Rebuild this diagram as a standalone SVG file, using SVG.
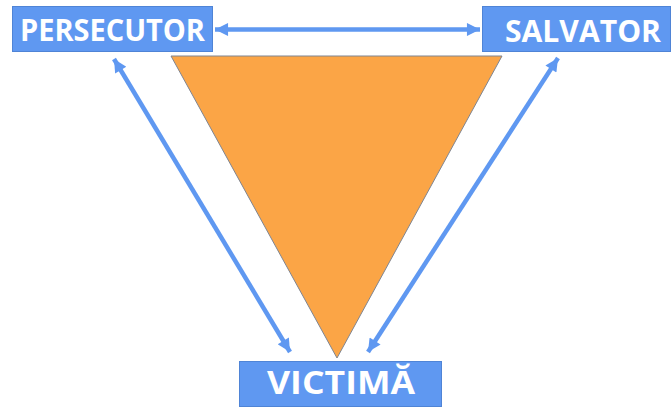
<svg xmlns="http://www.w3.org/2000/svg" width="672" height="407" viewBox="0 0 672 407">
<style>
.box{fill:#5F98F1;stroke:#4F84D6;stroke-width:1}
.lbl{font-family:"Open Sans","Liberation Sans",sans-serif;font-weight:bold;fill:#FFFFFF;text-anchor:middle}
.con{stroke:#5F98F1;stroke-width:4.5;fill:none;marker-start:url(#ah);marker-end:url(#ah)}
</style>
<defs>
<marker id="ah" viewBox="0 0 10 10" refX="10" refY="5" markerWidth="3.3" markerHeight="2.9" orient="auto-start-reverse" markerUnits="strokeWidth">
<path d="M0,0 L10,5 L0,10 Z" fill="#5F98F1"/>
</marker>
</defs>
<rect width="672" height="407" fill="#FFFFFF"/>
<polygon id="triangle" points="171,56 502,56 337,358" fill="#FBA546" stroke="#7F8591" stroke-width="1"/>
<g id="connectors">
<line class="con" x1="215" y1="29.5" x2="480" y2="29.5"/>
<line class="con" x1="114" y1="59" x2="290" y2="352"/>
<line class="con" x1="558" y1="58" x2="368" y2="352"/>
</g>
<g id="persecutor">
<rect class="box" x="12.5" y="6.5" width="200" height="45"/>
<text class="lbl" x="112.5" y="41" font-size="29.5" textLength="185" lengthAdjust="spacingAndGlyphs">PERSECUTOR</text>
</g>
<g id="salvator">
<rect class="box" x="482.5" y="6.5" width="188" height="45"/>
<text class="lbl" x="583" y="41.5" font-size="29.5" textLength="156" lengthAdjust="spacingAndGlyphs">SALVATOR</text>
</g>
<g id="victima">
<rect class="box" x="239.5" y="361.5" width="202" height="45"/>
<text class="lbl" x="341" y="394" font-size="33" textLength="148" lengthAdjust="spacingAndGlyphs">VICTIMĂ</text>
</g>
</svg>
